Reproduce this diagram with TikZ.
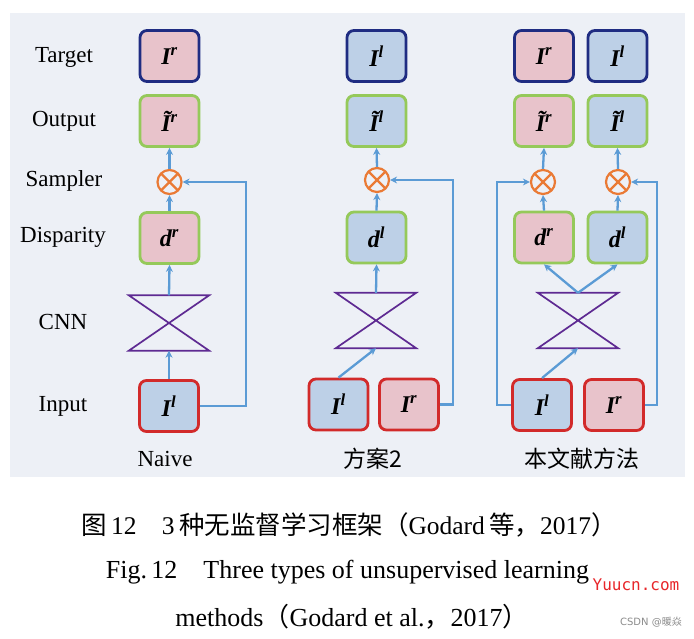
\documentclass[tikz,border=0pt]{standalone}
\usepackage{fontspec}
\setmainfont{Liberation Serif}
\newfontfamily\cjk{Noto Sans CJK SC}
\newfontfamily\wmfont{DejaVu Sans Mono}
\newfontfamily\marksans{DejaVu Sans}
\usepackage{tikz}
\usetikzlibrary{arrows.meta, positioning, calc}
\definecolor{panelgray}{HTML}{EDF0F6}
\definecolor{imgpink}{HTML}{E8C3CB}
\definecolor{imgblue}{HTML}{BDD0E7}
\definecolor{tgtblue}{HTML}{1F2C82}
\definecolor{outgreen}{HTML}{95C95A}
\definecolor{inred}{HTML}{D22A2A}
\definecolor{samporange}{HTML}{EA7A35}
\definecolor{linkblue}{HTML}{5B9BD5}
\definecolor{cnnpurple}{HTML}{5E2A92}
\definecolor{wmred}{HTML}{E8262A}
\newcommand{\imgI}[1]{I\textsuperscript{#1}}
\newcommand{\warpI}[1]{\~I\textsuperscript{#1}}
\newcommand{\dispd}[1]{d\textsuperscript{#1}}

\begin{document}
\begin{tikzpicture}[
    x=1pt, y=-1pt,
    imgbox/.style={rounded corners=7pt, line width=2.8pt, minimum width=59pt,
                   minimum height=51pt, inner sep=0pt,
                   font=\fontsize{24}{24}\selectfont\bfseries\itshape},
    tgtbox/.style={imgbox, draw=tgtblue},
    outbox/.style={imgbox, draw=outgreen},
    inbox/.style={imgbox, draw=inred},
    sampler/.style={circle, draw=samporange, line width=2.2pt, minimum size=24pt, inner sep=0pt,
                    path picture={\draw[samporange, line width=2.2pt]
                      (path picture bounding box.north west) -- (path picture bounding box.south east)
                      (path picture bounding box.north east) -- (path picture bounding box.south west);}},
    cnn/.style={minimum width=80pt, minimum height=55pt, inner sep=0pt},
    bowtie/.style={draw=cnnpurple, line width=1.7pt},
    link/.style={draw=linkblue, line width=2.3pt, -{Stealth[length=7pt,width=7pt]}},
    rowlabel/.style={font=\fontsize{23}{23}\selectfont},
    collabel/.style={font=\fontsize{23}{23}\selectfont},
    caption/.style={font=\fontsize{26}{26}\selectfont}
]
\useasboundingbox (0,0) rectangle (694,639);
\fill[white] (0,0) rectangle (694,639);
\fill[panelgray] (10,13) rectangle (685,477);

% row labels
\node[rowlabel] (lbltarget) at (64,57) {Target};
\node[rowlabel] (lbloutput) at (64,121) {Output};
\node[rowlabel] (lblsampler) at (64,181) {Sampler};
\node[rowlabel] (lbldisp) at (63,237) {Disparity};
\node[rowlabel] (lblcnn) at (63,322) {CNN};
\node[rowlabel] (lblinput) at (63,406) {Input};

% Naive
\node[tgtbox, fill=imgpink] (tgt1) at (169.5,56) {\imgI{r}};
\node[outbox, fill=imgpink] (out1) at (169.5,121) {\warpI{r}};
\node[sampler] (samp1) at (169.5,182) {};
\node[outbox, fill=imgpink] (disp1) at (169.5,238) {\dispd{r}};
\node[cnn] (cnn1) at (169,323) {};
\node[inbox, fill=imgblue] (in1) at (169,406) {\imgI{l}};
\draw[bowtie] (cnn1.north west) -- (cnn1.north east) -- (cnn1.south west) -- (cnn1.south east) -- cycle;
\draw[link] (in1.north) -- (cnn1.south);
\draw[link] (cnn1.north) -- (disp1.south);
\draw[link] (disp1.north) -- (samp1.south);
\draw[link] (samp1.north) -- (out1.south);
\draw[link] (in1.east) -- ++(46,0) |- (samp1.east);
\node[collabel] (name1) at (165,459) {Naive};

% scheme 2
\node[tgtbox, fill=imgblue] (tgt2) at (376.5,56) {\imgI{l}};
\node[outbox, fill=imgblue] (out2) at (376.5,121) {\warpI{l}};
\node[sampler] (samp2) at (377,180) {};
\node[outbox, fill=imgblue] (disp2) at (376.5,237.5) {\dispd{l}};
\node[cnn] (cnn2) at (376,320.5) {};
\node[inbox, fill=imgblue] (in2l) at (338.5,404.5) {\imgI{l}};
\node[inbox, fill=imgpink] (in2r) at (409,404.5) {\imgI{r}};
\draw[bowtie] (cnn2.north west) -- (cnn2.north east) -- (cnn2.south west) -- (cnn2.south east) -- cycle;
\draw[link] (in2l.north) -- (cnn2.south);
\draw[link] (cnn2.north) -- (disp2.south);
\draw[link] (disp2.north) -- (samp2.south);
\draw[link] (samp2.north) -- (out2.south);
\draw[link] (in2r.east) -- ++(13,0) |- (samp2.east);
\node[collabel] (name2) at (373,459) {\cjk 方案2};

% this paper
\node[tgtbox, fill=imgpink] (tgt3l) at (544,56) {\imgI{r}};
\node[tgtbox, fill=imgblue] (tgt3r) at (617.5,56) {\imgI{l}};
\node[outbox, fill=imgpink] (out3l) at (544,121) {\warpI{r}};
\node[outbox, fill=imgblue] (out3r) at (617.5,121) {\warpI{l}};
\node[sampler] (samp3l) at (543,182) {};
\node[sampler] (samp3r) at (618,182) {};
\node[outbox, fill=imgpink] (disp3l) at (544,237.5) {\dispd{r}};
\node[outbox, fill=imgblue] (disp3r) at (617.5,237.5) {\dispd{l}};
\node[cnn] (cnn3) at (578,320.5) {};
\node[inbox, fill=imgblue] (in3l) at (542,405) {\imgI{l}};
\node[inbox, fill=imgpink] (in3r) at (614,405) {\imgI{r}};
\draw[bowtie] (cnn3.north west) -- (cnn3.north east) -- (cnn3.south west) -- (cnn3.south east) -- cycle;
\draw[link] (in3l.north) -- (cnn3.south);
\draw[link] (cnn3.north) -- (disp3l.south);
\draw[link] (cnn3.north) -- (disp3r.south);
\draw[link] (disp3l.north) -- (samp3l.south);
\draw[link] (disp3r.north) -- (samp3r.south);
\draw[link] (samp3l.north) -- (out3l.south);
\draw[link] (samp3r.north) -- (out3r.south);
\draw[link] (in3l.west) -- ++(-14,0) |- (samp3l.west);
\draw[link] (in3r.east) -- ++(12,0) |- (samp3r.east);
\node[collabel] (name3) at (582,459) {\cjk 本文献方法};

% caption
\node[caption, font=\fontsize{25.5}{26}\selectfont] (cap1) at (349,525)
    {{\cjk 图}\,12\quad 3\,{\cjk 种无监督学习框架（}Godard\,{\cjk 等，}2017{\cjk ）}};
\node[caption] (cap2) at (347.5,572)
    {Fig.\,12\quad Three types of unsupervised learning};
\node[caption] (cap3) at (352,617)
    {methods{\cjk （}Godard et al.{\cjk ，}2017{\cjk ）}};

% marks
\node[font=\wmfont\fontsize{16}{16}\selectfont, text=wmred] (mark1) at (636,585) {Yuucn.com};
\node[font=\marksans\fontsize{10}{10}\selectfont, text=black!45] (mark2) at (651,622) {CSDN @{\cjk 暖焱}};
\end{tikzpicture}
\end{document}
